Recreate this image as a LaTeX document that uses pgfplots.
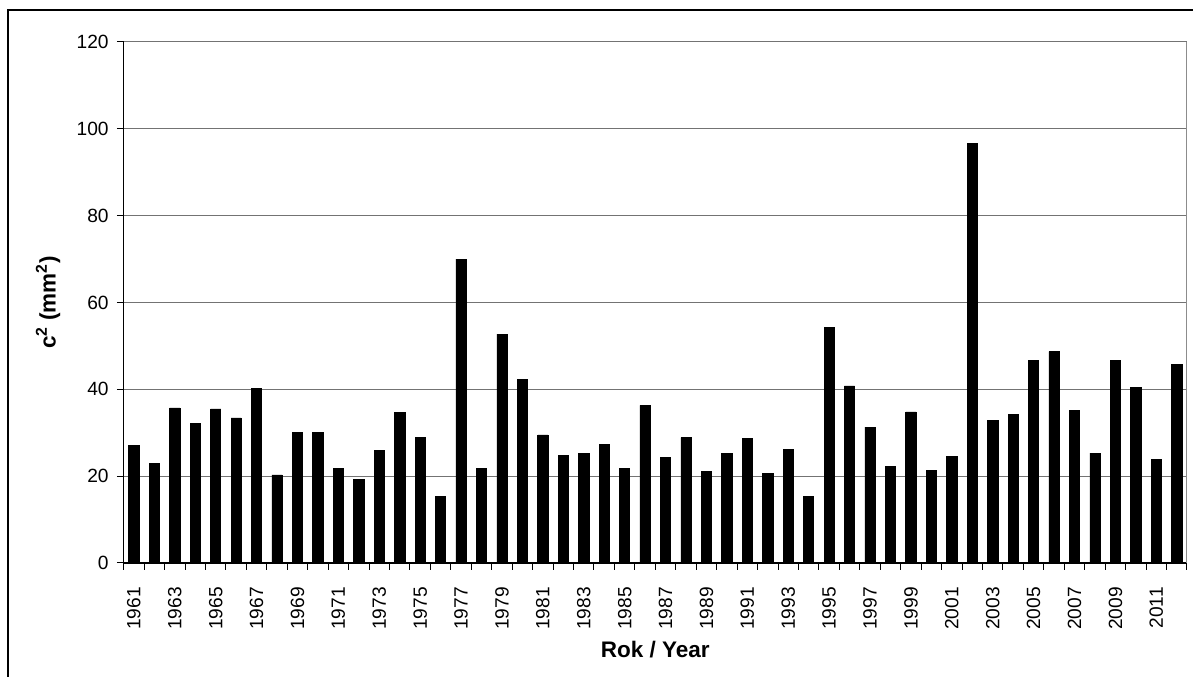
\documentclass[border=0pt]{standalone}
\usepackage{pgfplots}
\pgfplotsset{compat=1.18}
\usepackage{fontspec}
\setmainfont{Liberation Sans}
\pgfplotstableread{
x y
0 27.0
1 23.0
2 35.7
3 32.2
4 35.5
5 33.4
6 40.2
7 20.3
8 30.1
9 30.1
10 21.8
11 19.2
12 26.0
13 34.6
14 28.9
15 15.3
16 70.0
17 21.8
18 52.7
19 42.3
20 29.5
21 24.7
22 25.3
23 27.4
24 21.8
25 36.3
26 24.4
27 28.9
28 21.0
29 25.3
30 28.6
31 20.6
32 26.2
33 15.3
34 54.2
35 40.8
36 31.3
37 22.2
38 34.8
39 21.3
40 24.5
41 96.6
42 32.8
43 34.2
44 46.7
45 48.7
46 35.2
47 25.3
48 46.7
49 40.5
50 23.8
51 45.8
}\datatable
\begin{document}
\begin{tikzpicture}
\useasboundingbox (0pt,0pt) rectangle (715.8pt,406.2pt);
\draw[line width=1.0pt] (4.8pt,-20pt) -- (4.8pt,400.2pt) -- (740pt,400.2pt);
\begin{axis}[
  at={(74.2pt,68.4pt)}, anchor=south west,
  scale only axis,
  width=638pt, height=312.6pt,
  xmin=-0.5, xmax=51.5,
  ymin=0, ymax=120,
  ytick={0,20,...,120},
  xtick={0,2,...,50},
  xticklabels={1961,1963,1965,1967,1969,1971,1973,1975,1977,1979,1981,1983,1985,1987,1989,1991,1993,1995,1997,1999,2001,2003,2005,2007,2009,2011},
  minor xtick={-0.5,0.5,...,51.5},
  major x tick style={draw=none},
  minor tick length=4pt,
  major tick length=4pt,
  tick align=outside,
  axis x line*=bottom,
  axis y line*=left,
  axis line style={black, line width=0.8pt},
  every tick/.style={black, line width=0.6pt},
  ymajorgrids,
  major grid style={black!55, line width=0.6pt},
  extra x ticks={51.5},
  extra x tick labels={},
  extra x tick style={grid=major, major grid style={black!45, line width=0.6pt}, major tick length=4pt},
  x tick label style={rotate=90, anchor=east, font=\fontsize{11.5}{13}\selectfont, xshift=-7pt},
  y tick label style={font=\fontsize{11.5}{13}\selectfont, xshift=-1.5pt},
  /pgf/number format/assume math mode=true,
  xlabel={\textbf{Rok / Year}},
  ylabel={\textbf{c\textsuperscript{2} (mm\textsuperscript{2})}},
  xlabel style={font=\fontsize{13.5}{15}\selectfont, yshift=8pt},
  ylabel style={font=\fontsize{13.5}{15}\selectfont, yshift=3pt},
  clip=false,
]
\addplot[ybar, bar width=0.5, fill=black, draw=black] table[x=x,y=y] {\datatable};
\end{axis}
\end{tikzpicture}
\end{document}
